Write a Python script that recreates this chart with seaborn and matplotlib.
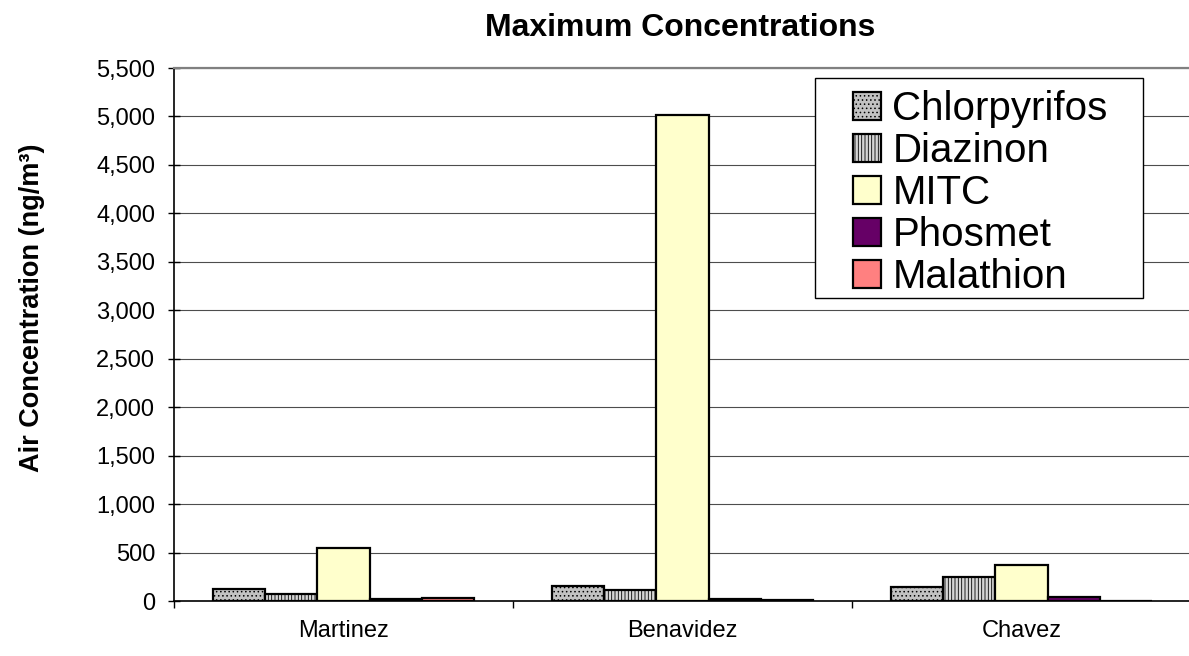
import matplotlib
matplotlib.use("Agg")
import matplotlib.pyplot as plt
import seaborn as sns
import pandas as pd
from matplotlib.patches import Rectangle
from matplotlib.ticker import FixedLocator, FuncFormatter

# Maximum air concentrations (ng/m3) by sampling site
sites = ["Martinez", "Benavidez", "Chavez"]
pesticides = ["Chlorpyrifos", "Diazinon", "MITC", "Phosmet", "Malathion"]
chlorpyrifos = [124, 155, 144]
diazinon = [72, 113, 247]
mitc = [550, 5010, 370]
phosmet = [25, 25, 40]
malathion = [35, 12, 5]
y_ticks = list(range(0, 5501, 500))

colors = ["#c2c2c2", "#d6d6d6", "#ffffcc", "#660066", "#ff8080"]
hatches = ["....", "|||||", "", "", ""]

series = [chlorpyrifos, diazinon, mitc, phosmet, malathion]
df = pd.DataFrame(
    [(s, p, v) for p, vals in zip(pesticides, series) for s, v in zip(sites, vals)],
    columns=["Site", "Pesticide", "Value"],
)

sns.set_theme(style="white")
plt.rcParams["font.family"] = ["Liberation Sans", "DejaVu Sans"]
plt.rcParams["hatch.linewidth"] = 0.6
for key in ["text.color", "axes.labelcolor", "xtick.color", "ytick.color"]:
    plt.rcParams[key] = "black"

W, H = 1189, 656
fig = plt.figure(figsize=(W / 100, H / 100), dpi=100)
ax = fig.add_axes([174 / W, 55 / H, 1017 / W, 533 / H])

sns.barplot(
    data=df, x="Site", y="Value", hue="Pesticide",
    order=sites, hue_order=pesticides, palette=colors,
    width=5 / 6.5, gap=0, saturation=1, errorbar=None,
    edgecolor="black", linewidth=1.6, legend=False, ax=ax, zorder=3,
)
for cont, h in zip(ax.containers, hatches):
    for bar in cont:
        bar.set_hatch(h)

ax.set_xlim(-0.5, 2.5)
ax.set_ylim(0, 5500)
ax.yaxis.set_major_locator(FixedLocator(y_ticks))
ax.yaxis.set_major_formatter(FuncFormatter(lambda v, _: f"{v:,.0f}"))
ax.yaxis.grid(True, color="#4d4d4d", linewidth=0.8)
ax.set_axisbelow(True)

ax.tick_params(axis="y", which="major", direction="inout", length=9, width=1,
               color="black", labelsize=17, pad=9, left=True)
ax.tick_params(axis="x", which="major", length=0, labelsize=17, pad=14)
ax.xaxis.set_minor_locator(FixedLocator([-0.5, 0.5, 1.5, 2.5]))
ax.tick_params(axis="x", which="minor", direction="out", length=5, width=1,
               color="black", bottom=True)

for side in ["left", "bottom"]:
    ax.spines[side].set_color("black")
    ax.spines[side].set_linewidth(1.2)
for side in ["top", "right"]:
    ax.spines[side].set_color("#808080")
    ax.spines[side].set_linewidth(1.6)

ax.set_xlabel("")
ax.set_ylabel("Air Concentration (ng/m³)", fontsize=19.5, fontweight="bold")
ax.yaxis.set_label_coords(-0.127, 0.55)

fig.text(680 / W, 1 - 28 / H, "Maximum Concentrations", ha="center",
         va="center", fontsize=23, fontweight="bold")

# Legend box
frame = Rectangle((815 / W, 1 - 298 / H), 328 / W, 220 / H,
                  transform=fig.transFigure, facecolor="white",
                  edgecolor="black", linewidth=1, zorder=4.5)
fig.add_artist(frame)

handles = [Rectangle((0, 0), 1, 1, facecolor=c, edgecolor="black",
                     hatch=h, linewidth=1.6) for c, h in zip(colors, hatches)]
fig.legend(handles, pesticides, loc="upper left",
           bbox_to_anchor=(853 / W, 1 - 90 / H), bbox_transform=fig.transFigure,
           frameon=False, fontsize=29, handlelength=0.7, handleheight=0.7,
           handletextpad=0.28, borderpad=0, borderaxespad=0, labelspacing=0.1)

fig.savefig("out.png", dpi=100)
